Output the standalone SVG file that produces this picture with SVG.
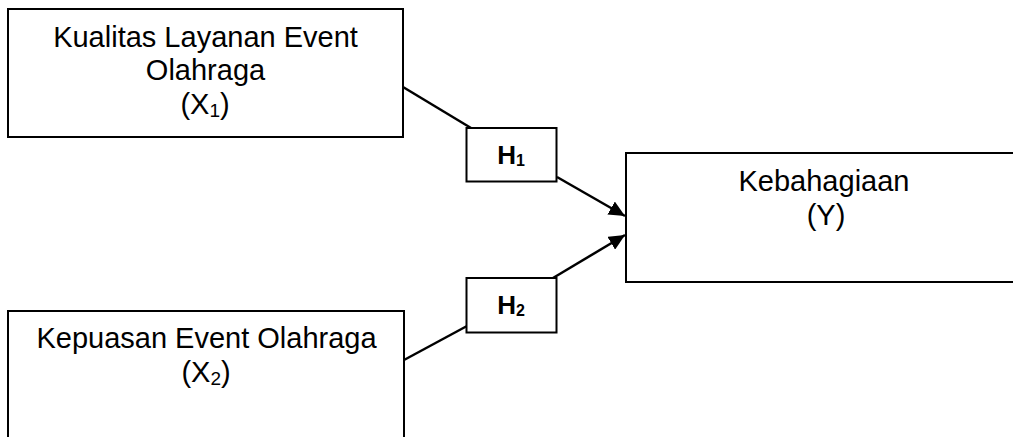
<svg xmlns="http://www.w3.org/2000/svg" width="1013" height="437" viewBox="0 0 1013 437">
<style>
  .box { fill: #ffffff; stroke: #000000; stroke-width: 2; }
  .lbl { font-family: "Liberation Sans", Arial, sans-serif; font-size: 29px; fill: #000000; text-anchor: middle; }
  .h { font-family: "Liberation Sans", Arial, sans-serif; font-size: 26px; font-weight: bold; fill: #000000; text-anchor: middle; }
  .sub { font-size: 19px; }
  .hsub { font-size: 16px; }
  .conn { stroke: #000000; stroke-width: 2.5; fill: none; }
</style>
<defs>
  <marker id="arrow" markerUnits="userSpaceOnUse" markerWidth="17" markerHeight="15" refX="16" refY="7.5" orient="auto">
    <path d="M0,0 L16,7.5 L0,15 z" fill="#000000"/>
  </marker>
</defs>
<rect width="1013" height="437" fill="#ffffff"/>
<g id="connectors">
  <line class="conn" x1="403" y1="87" x2="471" y2="128"/>
  <line class="conn" x1="557" y1="177" x2="625" y2="216" marker-end="url(#arrow)"/>
  <line class="conn" x1="404" y1="360" x2="467" y2="326"/>
  <line class="conn" x1="553" y1="278" x2="625" y2="235" marker-end="url(#arrow)"/>
</g>
<g id="node-x1">
  <rect class="box" x="8" y="9" width="395" height="128"/>
  <text class="lbl" x="205.5" y="46.7">Kualitas Layanan Event</text>
  <text class="lbl" x="205.5" y="80">Olahraga</text>
  <text class="lbl" x="205" y="114">(X<tspan class="sub" dy="3">1</tspan><tspan dy="-3">)</tspan></text>
</g>
<g id="node-x2">
  <rect class="box" x="8" y="311" width="396" height="140"/>
  <text class="lbl" x="206.5" y="348">Kepuasan Event Olahraga</text>
  <text class="lbl" x="206" y="381.5">(X<tspan class="sub" dy="3">2</tspan><tspan dy="-3">)</tspan></text>
</g>
<g id="node-y">
  <rect class="box" x="626" y="153" width="400" height="129"/>
  <text class="lbl" x="824" y="191">Kebahagiaan</text>
  <text class="lbl" x="826" y="225">(Y)</text>
</g>
<g id="node-h1">
  <rect class="box" x="466.5" y="128" width="90" height="53.5"/>
  <text class="h" x="511" y="163.7">H<tspan class="hsub" dy="2">1</tspan></text>
</g>
<g id="node-h2">
  <rect class="box" x="466.5" y="278" width="90" height="54.5"/>
  <text class="h" x="511" y="314">H<tspan class="hsub" dy="2">2</tspan></text>
</g>
</svg>
